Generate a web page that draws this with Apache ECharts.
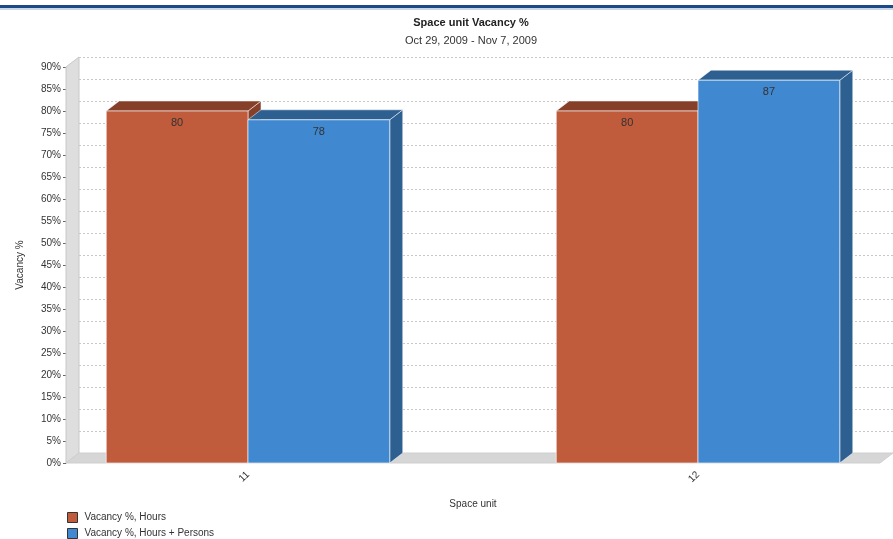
<!DOCTYPE html>
<html>
<head>
<meta charset="utf-8">
<script src="https://cdn.jsdelivr.net/npm/echarts@6/dist/echarts.min.js"></script>
<style>
  html, body { margin: 0; padding: 0; background: #fff; }
  #chart { width: 893px; height: 539px; }
</style>
</head>
<body>
<div id="chart"></div>
<script>
// data
var categories = ['11', '12'];
var hoursValues = [80, 80];
var hoursPersonsValues = [78, 87];
var yTicks = [0, 90, 5]; // min, max, step (percent)

var DX = 13, DY = -10; // 3d depth offset
var FONT = 'Liberation Sans, Arial, sans-serif';

function shade(c, k) {
  var n = parseInt(c.slice(1), 16);
  var r = Math.round(((n >> 16) & 255) * k), g = Math.round(((n >> 8) & 255) * k), b = Math.round((n & 255) * k);
  return 'rgb(' + r + ',' + g + ',' + b + ')';
}

function toData(vals) {
  return vals.map(function (v, i) { return [i, v]; });
}

// draws one 3d bar: side 0 = left of category center, 1 = right
function barRenderer(side) {
  return function (params, api) {
    var x = api.value(0), v = api.value(1);
    var color = api.visual('color');
    var c0 = api.coord([x, 0]);
    var top = api.coord([x, v]);
    var w = api.coord([x + 0.315, 0])[0] - c0[0];
    var x0 = side === 0 ? c0[0] - w : c0[0];
    var x1 = x0 + w;
    var y0 = top[1], y1 = c0[1];
    var dark = shade(color, 0.7);
    return {
      type: 'group',
      children: [
        { type: 'polygon', shape: { points: [[x1, y0], [x1 + DX, y0 + DY], [x1 + DX, y1 + DY], [x1, y1]] },
          style: { fill: dark, stroke: 'rgba(255,255,255,0.5)', lineWidth: 1 } },
        { type: 'polygon', shape: { points: [[x0, y0], [x0 + DX, y0 + DY], [x1 + DX, y0 + DY], [x1, y0]] },
          style: { fill: dark, stroke: 'rgba(255,255,255,0.5)', lineWidth: 1 } },
        { type: 'rect', shape: { x: x0, y: y0, width: w, height: y1 - y0 },
          style: { fill: color, stroke: 'rgba(255,255,255,0.6)', lineWidth: 1 } },
        { type: 'text', x: (x0 + x1) / 2, y: y0 + 12,
          style: { text: String(v), fill: '#333', font: '11px ' + FONT, align: 'center', verticalAlign: 'middle' } }
      ]
    };
  };
}

var myChart = echarts.init(document.getElementById('chart'));

var option = {
  animation: false,
  backgroundColor: '#fff',
  title: {
    text: 'Space unit Vacancy %',
    subtext: 'Oct 29, 2009 - Nov 7, 2009',
    left: 466, top: 12, textAlign: 'center', itemGap: 7,
    textStyle: { fontSize: 11, fontWeight: 'bold', color: '#222', fontFamily: FONT },
    subtextStyle: { fontSize: 11, color: '#333', fontFamily: FONT }
  },
  legend: {
    orient: 'vertical', left: 67, top: 512, padding: 0, itemWidth: 10, itemHeight: 10, itemGap: 5,
    icon: 'rect',
    itemStyle: { borderColor: '#333', borderWidth: 1 },
    textStyle: { fontSize: 10, color: '#333', fontFamily: FONT, padding: [0, 0, 0, 2] },
    data: ['Vacancy %, Hours', 'Vacancy %, Hours + Persons']
  },
  graphic: [
    { type: 'rect', shape: { x: 0, y: 5, width: 893, height: 3 }, style: { fill: '#1c4a86' } },
    { type: 'rect', shape: { x: 0, y: 8, width: 893, height: 2 }, style: { fill: '#c9d6e6' } }
  ],
  grid: [
    { left: 66, right: 13, top: 67, bottom: 76 },
    { left: 66 + DX, right: 13 - DX, top: 67 + DY, bottom: 76 - DY }
  ],
  xAxis: [
    {
      gridIndex: 0, type: 'value', min: -0.4044, max: 1.4044,
      name: 'Space unit', nameLocation: 'middle', nameGap: 36,
      nameTextStyle: { fontSize: 10, color: '#333', fontFamily: FONT },
      axisLine: { show: false, onZero: false }, axisTick: { show: false }, splitLine: { show: false },
      axisLabel: {
        customValues: [0, 1], rotate: 45, margin: 10, fontSize: 10, color: '#333', fontFamily: FONT,
        formatter: function (v) { return categories[Math.round(v)]; }
      }
    },
    { gridIndex: 1, type: 'value', min: -0.4044, max: 1.4044, show: false }
  ],
  yAxis: [
    {
      gridIndex: 0, type: 'value', min: yTicks[0], max: yTicks[1], interval: yTicks[2],
      position: 'left',
      name: 'Vacancy %', nameLocation: 'middle', nameGap: 41,
      nameTextStyle: { fontSize: 10, color: '#333', fontFamily: FONT },
      axisLine: { show: true, onZero: false, lineStyle: { color: '#aaa' } },
      axisTick: { show: true, length: 3, lineStyle: { color: '#666' } },
      axisLabel: { fontSize: 10, color: '#333', margin: 5, fontFamily: FONT, formatter: '{value}%' },
      splitLine: { show: false }
    },
    {
      gridIndex: 1, type: 'value', min: yTicks[0], max: yTicks[1], interval: yTicks[2],
      axisLine: { show: false, onZero: false }, axisTick: { show: false }, axisLabel: { show: false },
      splitLine: { show: true, lineStyle: { color: '#c8c8c8', type: [2, 2], width: 1 } }
    }
  ],
  series: [
    {
      // back wall and floor
      type: 'custom', xAxisIndex: 0, yAxisIndex: 0, z: 1, silent: true,
      data: [[0, 0]],
      renderItem: function (params, api) {
        var a = api.coord([-0.4044, 0]);
        var b = api.coord([1.4044, 0]);
        var t = api.coord([-0.4044, yTicks[1]]);
        return {
          type: 'group',
          children: [
            { type: 'polygon', shape: { points: [[a[0], a[1]], [a[0] + DX, a[1] + DY], [t[0] + DX, t[1] + DY], [t[0], t[1]]] },
              style: { fill: '#dedede', stroke: '#c8c8c8', lineWidth: 1 } },
            { type: 'polygon', shape: { points: [[a[0], a[1]], [a[0] + DX, a[1] + DY], [b[0] + DX, b[1] + DY], [b[0], b[1]]] },
              style: { fill: '#d6d6d6', stroke: '#cfcfcf', lineWidth: 1 } }
          ]
        };
      }
    },
    {
      name: 'Vacancy %, Hours', type: 'custom', xAxisIndex: 0, yAxisIndex: 0, z: 3,
      itemStyle: { color: '#c05b3b' },
      data: toData(hoursValues),
      renderItem: barRenderer(0)
    },
    {
      name: 'Vacancy %, Hours + Persons', type: 'custom', xAxisIndex: 0, yAxisIndex: 0, z: 4,
      itemStyle: { color: '#4088cf' },
      data: toData(hoursPersonsValues),
      renderItem: barRenderer(1)
    }
  ]
};

myChart.setOption(option);
</script>
</body>
</html>
